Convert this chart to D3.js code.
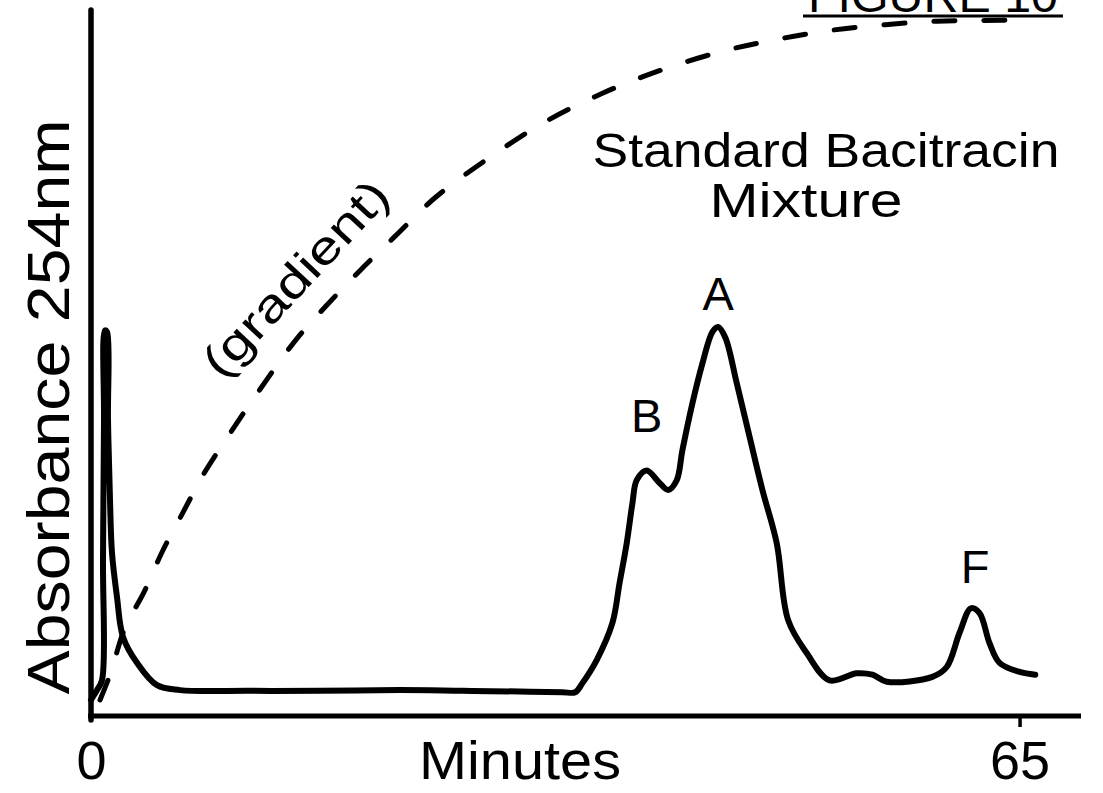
<!DOCTYPE html>
<html>
<head>
<meta charset="utf-8">
<script src="https://cdn.jsdelivr.net/npm/d3@7"></script>
<style>
  html, body { margin: 0; padding: 0; background: #fff; }
  svg { display: block; }
  .lbl { font-family: "Liberation Sans", "DejaVu Sans", sans-serif; fill: #000; }
  .axis path, .axis line { stroke: #000; }
</style>
</head>
<body>
<div id="chart"></div>
<script>
// Standard Bacitracin Mixture — UV trace at 254 nm plus the solvent gradient (dashed)

// trace: [minutes, absorbance (% of full scale)]
const traceMinutes = [0, 0.42, 0.77, 0.84, 0.91, 0.98, 1.12, 1.19, 1.33, 1.47, 1.82, 2.24, 3.22, 4.62, 6.23,
  11.1, 16.0, 21.6, 26.0, 30.0, 33.0, 33.9, 34.4, 35.4, 36.5, 37.0, 37.5, 37.9, 38.2, 38.9, 39.8, 40.4, 41.0, 41.4, 42.1,
  42.8, 43.5, 43.9, 44.4, 45.2, 46.1, 47.0, 48.0, 48.8, 50.1, 51.7, 53.6, 54.7, 55.7, 58.9, 59.9, 60.8,
  61.6, 62.2, 62.9, 63.6, 65.0, 66.1];
const traceAbs = [2.3, 3.7, 5.1, 22.3, 42.3, 55.1, 54.9, 42.3, 30.9, 23.3, 17.0, 11.3, 7.6, 4.4, 3.7,
  3.6, 3.6, 3.7, 3.6, 3.5, 3.4, 3.4, 4.7, 8.0, 13.3, 19.0, 24.7, 30.4, 33.7, 35.1, 33.3, 32.3, 33.7, 38.0, 44.7,
  50.4, 54.9, 55.6, 54.1, 47.6, 39.9, 32.3, 24.7, 13.7, 9.0, 5.1, 6.1, 5.9, 4.9, 5.6, 7.0, 11.9,
  15.4, 14.7, 10.4, 7.6, 6.3, 5.9];

// gradient: [minutes, % strong solvent]
const gradMinutes = [0.63, 1.33, 2.38, 3.71, 4.97, 6.44, 7.98, 9.80, 11.8, 14.4, 16.5, 18.7, 21.2, 24.1,
  27.6, 31.6, 35.8, 39.9, 44.2, 48.0, 51.8, 55.6, 59.2, 62.5, 65.6];
const gradPct = [2.3, 5.9, 12.6, 17.7, 23.4, 29.1, 34.9, 40.6, 46.6, 53.9, 58.7, 63.4, 68.4, 74.1,
  79.4, 84.7, 89.0, 92.3, 95.0, 96.7, 98.0, 98.8, 99.3, 99.4, 99.5];

const peakNames = ["B", "A", "F"];
const peakMinutes = [38.9, 43.9, 61.6];
const peakAbs = [35.1, 55.6, 15.4];

const xTicks = [0, 65];

const W = 1103, H = 793;
const svg = d3.select("#chart").append("svg").attr("width", W).attr("height", H);

const x = d3.scaleLinear().domain([0, 69.3]).range([91, 1081]);
const y = d3.scaleLinear().domain([0, 100.9]).range([716, 10]);

// axes
const xAxis = svg.append("g")
  .attr("class", "axis")
  .attr("transform", `translate(0,${y(0)})`)
  .call(d3.axisBottom(x).tickValues(xTicks).tickSize(10).tickSizeOuter(0).tickFormat(d3.format("d")));
xAxis.select(".domain").attr("stroke-width", 5).attr("d", `M${x(0) - 3},0H${x.range()[1]}`);
xAxis.selectAll(".tick line").attr("stroke-width", 3.5).attr("y2", d => d === 0 ? 0 : 11);
xAxis.selectAll(".tick text")
  .attr("class", "lbl")
  .attr("y", 0).attr("dy", null)
  .attr("transform", "translate(0,63)")
  .style("font-size", "54px");

const yAxis = svg.append("g")
  .attr("class", "axis")
  .attr("transform", `translate(${x(0)},0)`)
  .call(d3.axisLeft(y).tickValues([]).tickSizeOuter(0));
yAxis.select(".domain").attr("stroke-width", 5.5).attr("stroke-linecap", "round")
  .attr("d", `M0,${y.range()[1]}V${y(0) + 4}`);

// dashed gradient
const gradLine = d3.line()
  .x((d, i) => x(gradMinutes[i]))
  .y(d => y(d))
  .curve(d3.curveCatmullRom.alpha(0.5));
svg.append("path")
  .attr("d", gradLine(gradPct))
  .attr("fill", "none")
  .attr("stroke", "#000")
  .attr("stroke-width", 5)
  .attr("stroke-linecap", "round")
  .attr("stroke-dasharray", "21,29");

// trace
const traceLine = d3.line()
  .x((d, i) => x(traceMinutes[i]))
  .y(d => y(d))
  .curve(d3.curveCatmullRom.alpha(0.5));
svg.append("path")
  .attr("d", traceLine(traceAbs))
  .attr("fill", "none")
  .attr("stroke", "#000")
  .attr("stroke-width", 6)
  .attr("stroke-linejoin", "round")
  .attr("stroke-linecap", "round");

// peak letters
const peakOff = [38, 17, 25];
svg.selectAll("text.peak")
  .data(peakNames)
  .join("text")
  .attr("class", "lbl peak")
  .attr("x", (d, i) => x(peakMinutes[i]) + (i === 2 ? 4 : 0))
  .attr("y", (d, i) => y(peakAbs[i]) - peakOff[i])
  .attr("text-anchor", "middle")
  .style("font-size", "47px")
  .text(d => d);

// axis titles
svg.append("text")
  .attr("class", "lbl")
  .attr("x", 520).attr("y", 779)
  .attr("text-anchor", "middle")
  .attr("textLength", 202)
  .attr("lengthAdjust", "spacingAndGlyphs")
  .style("font-size", "54px")
  .text("Minutes");

svg.append("text")
  .attr("class", "lbl")
  .attr("transform", "translate(69,407) rotate(-90)")
  .attr("text-anchor", "middle")
  .attr("textLength", 575)
  .attr("lengthAdjust", "spacingAndGlyphs")
  .style("font-size", "60px")
  .text("Absorbance  254nm");

// sample title
svg.append("text")
  .attr("class", "lbl")
  .attr("x", 826).attr("y", 167)
  .attr("text-anchor", "middle")
  .attr("textLength", 467)
  .attr("lengthAdjust", "spacingAndGlyphs")
  .style("font-size", "48px")
  .text("Standard Bacitracin");
svg.append("text")
  .attr("class", "lbl")
  .attr("x", 806).attr("y", 217)
  .attr("text-anchor", "middle")
  .attr("textLength", 193)
  .attr("lengthAdjust", "spacingAndGlyphs")
  .style("font-size", "48px")
  .text("Mixture");

// gradient label
svg.append("text")
  .attr("class", "lbl")
  .attr("transform", "translate(307,289) rotate(-47)")
  .attr("text-anchor", "middle")
  .attr("textLength", 250)
  .attr("lengthAdjust", "spacingAndGlyphs")
  .style("font-size", "46px")
  .text("(gradient)");

// figure number, cut at top of the page
svg.append("text")
  .attr("class", "lbl")
  .attr("x", 933).attr("y", 12)
  .attr("text-anchor", "middle")
  .attr("textLength", 250)
  .attr("lengthAdjust", "spacingAndGlyphs")
  .style("font-size", "46px")
  .text("FIGURE 10");
svg.append("line")
  .attr("x1", 803).attr("x2", 1063).attr("y1", 16).attr("y2", 16)
  .attr("stroke", "#000").attr("stroke-width", 3);
</script>
</body>
</html>
